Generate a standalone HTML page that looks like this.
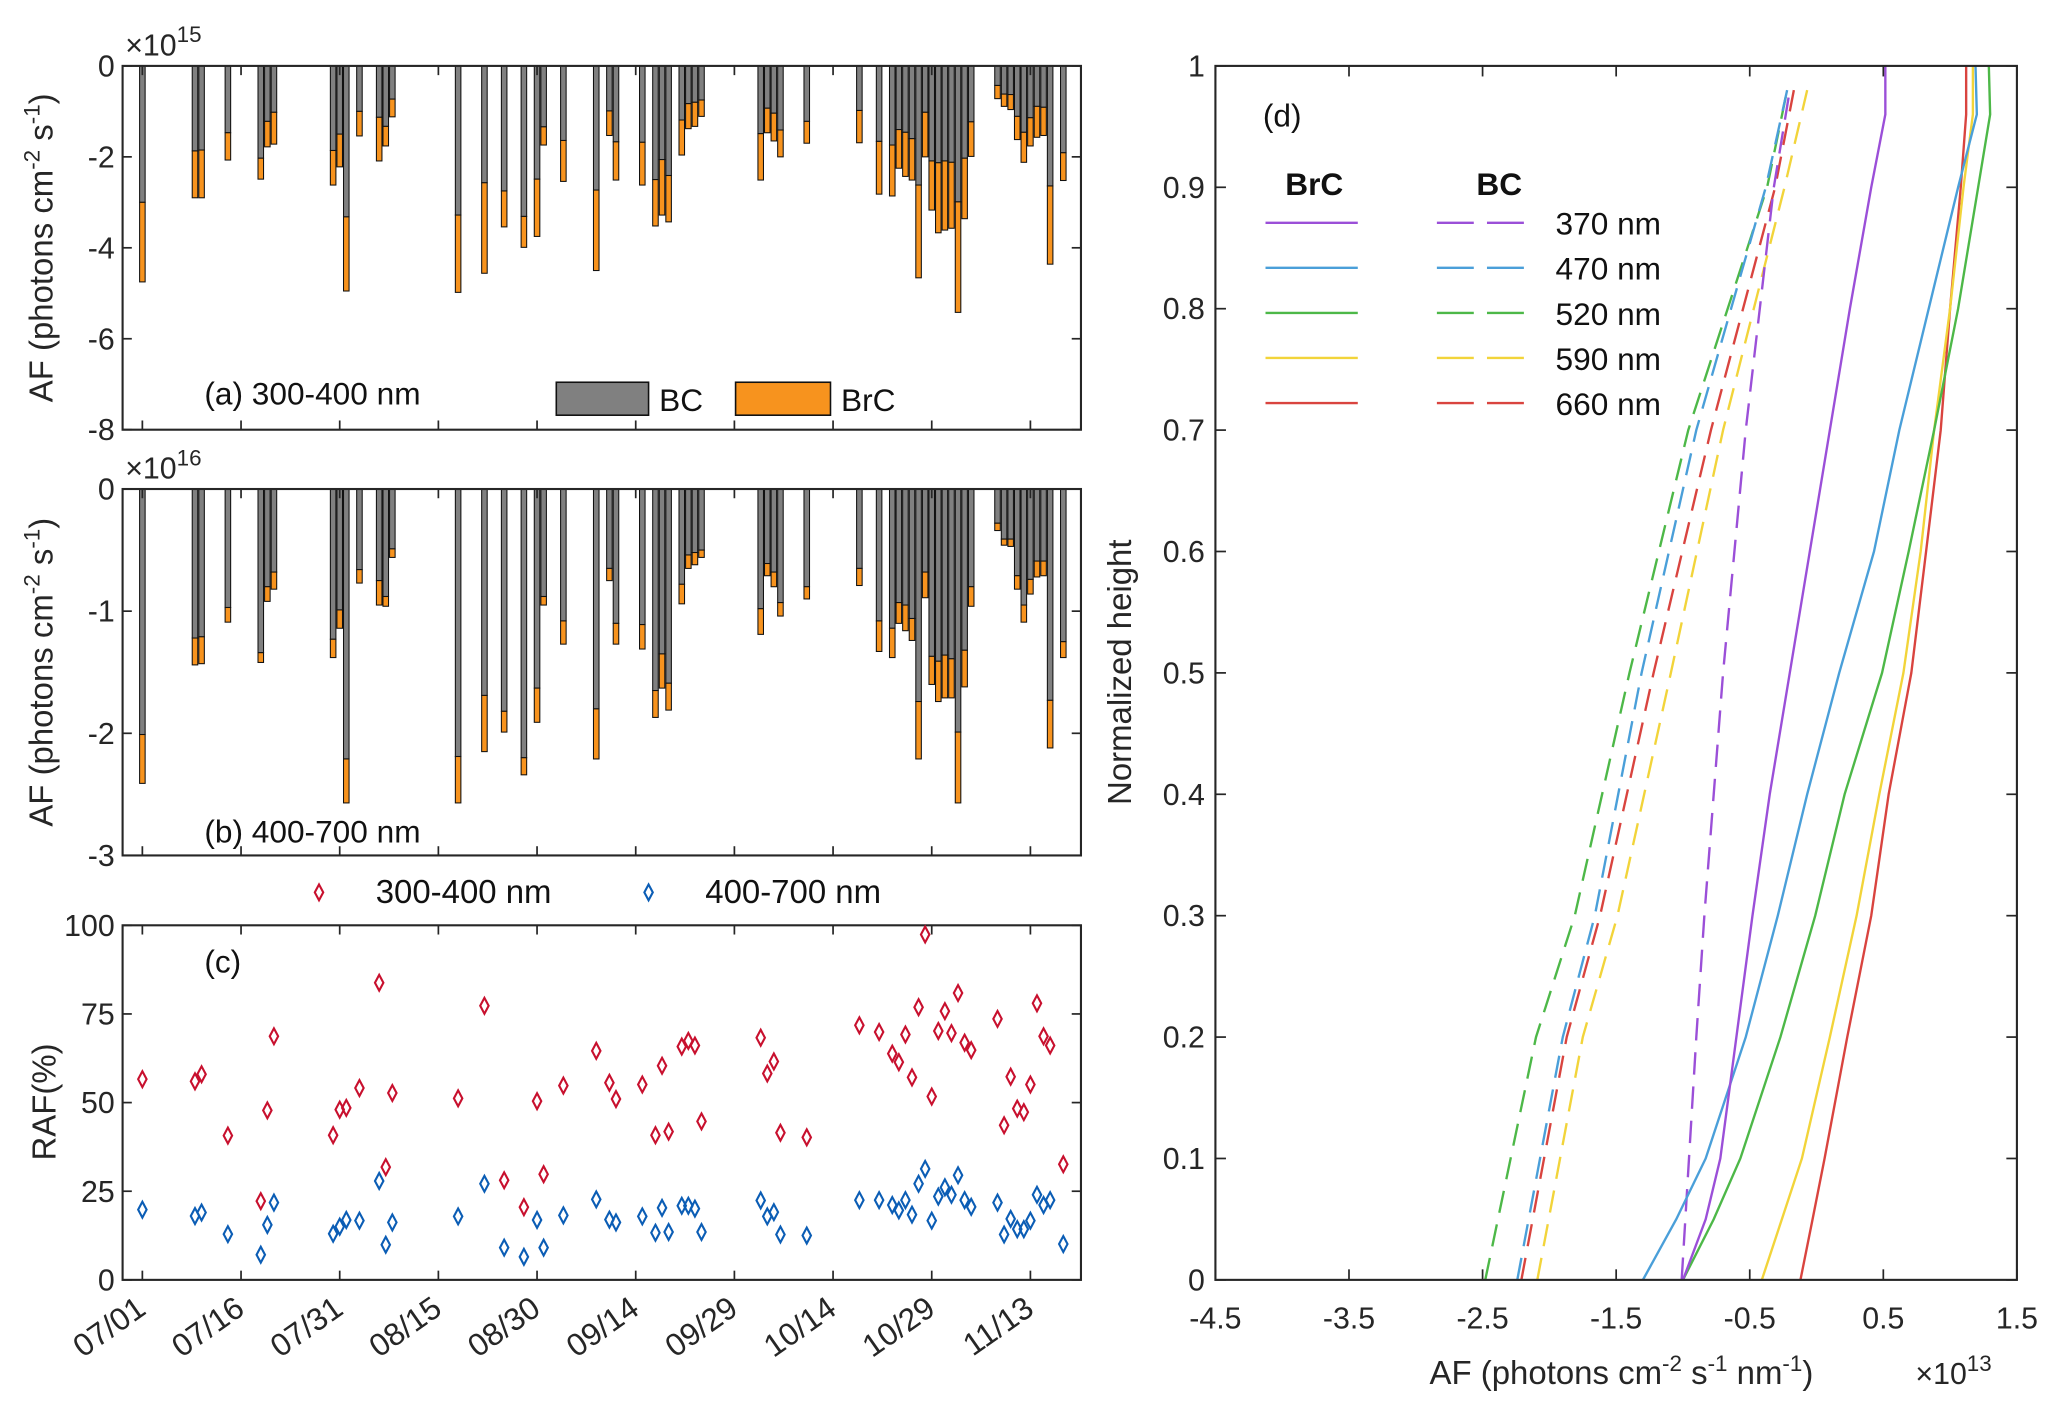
<!DOCTYPE html>
<html><head><meta charset="utf-8"><style>
html,body{margin:0;padding:0;background:#fff}
svg{display:block;font-family:"Liberation Sans",Arial,sans-serif}
</style></head><body>
<svg id="fig" xmlns="http://www.w3.org/2000/svg" width="2067" height="1413" viewBox="0 0 1568 1072" preserveAspectRatio="none">
<rect width="1568" height="1072" fill="#fff"/>
<g id="pa"></g>
<g id="pb"></g>
<g id="pc"></g>
<g id="pd"></g>
</svg>
<script>
// ---- data: panels a/b/c (day index from 07/01) ----
const days = [0,8,9,13,18,19,20,29,30,31,33,36,37,38,48,52,55,58,60,61,64,69,71,72,76,78,79,80,82,83,84,85,94,95,96,97,101,109,112,114,115,116,117,118,119,120,121,122,123,124,125,126,130,131,132,133,134,135,136,137,138,140];
const bcA = [-3.0,-1.87,-1.85,-1.47,-2.03,-1.22,-1.02,-1.86,-1.5,-3.32,-1.0,-1.13,-1.33,-0.73,-3.28,-2.57,-2.75,-3.31,-2.49,-1.34,-1.64,-2.73,-0.99,-1.67,-1.68,-2.5,-2.06,-2.41,-1.19,-0.83,-0.8,-0.75,-1.49,-0.93,-1.04,-1.41,-1.22,-0.98,-1.66,-1.74,-1.4,-1.46,-1.6,-2.62,-1.02,-2.09,-2.13,-2.09,-2.12,-2.99,-2.03,-1.23,-0.43,-0.62,-0.63,-1.11,-1.46,-1.14,-0.89,-0.91,-2.64,-1.91];
const totA = [-4.75,-2.9,-2.9,-2.07,-2.49,-1.78,-1.72,-2.62,-2.22,-4.95,-1.54,-2.09,-1.76,-1.12,-4.98,-4.56,-3.54,-3.99,-3.75,-1.74,-2.54,-4.5,-1.53,-2.51,-2.62,-3.52,-3.28,-3.43,-1.96,-1.38,-1.33,-1.11,-2.51,-1.47,-1.65,-2.0,-1.7,-1.69,-2.82,-2.86,-2.25,-2.43,-2.51,-4.66,-2.0,-3.17,-3.67,-3.61,-3.57,-5.42,-3.36,-1.99,-0.72,-0.89,-0.96,-1.62,-2.12,-1.76,-1.57,-1.53,-4.36,-2.52];
const bcB = [-2.01,-1.22,-1.21,-0.97,-1.34,-0.8,-0.68,-1.23,-0.99,-2.21,-0.66,-0.75,-0.88,-0.49,-2.19,-1.69,-1.82,-2.2,-1.63,-0.88,-1.08,-1.8,-0.65,-1.1,-1.11,-1.65,-1.35,-1.59,-0.78,-0.54,-0.52,-0.5,-0.98,-0.61,-0.68,-0.93,-0.8,-0.65,-1.08,-1.14,-0.93,-0.95,-1.06,-1.74,-0.68,-1.37,-1.41,-1.36,-1.39,-1.99,-1.32,-0.8,-0.28,-0.41,-0.41,-0.71,-0.95,-0.74,-0.59,-0.59,-1.73,-1.25];
const totB = [-2.41,-1.44,-1.43,-1.09,-1.42,-0.92,-0.82,-1.38,-1.14,-2.57,-0.77,-0.95,-0.96,-0.56,-2.57,-2.15,-1.99,-2.34,-1.91,-0.95,-1.27,-2.21,-0.75,-1.27,-1.31,-1.87,-1.63,-1.81,-0.94,-0.65,-0.62,-0.56,-1.19,-0.71,-0.8,-1.04,-0.9,-0.79,-1.33,-1.38,-1.1,-1.16,-1.24,-2.21,-0.89,-1.6,-1.74,-1.71,-1.71,-2.57,-1.62,-0.96,-0.34,-0.46,-0.47,-0.82,-1.09,-0.86,-0.72,-0.71,-2.12,-1.38];
const rafUV = [56.6,56,58,40.7,22.2,47.8,68.7,40.8,48,48.5,54.1,83.8,31.8,52.7,51.2,77.3,28.1,20.5,50.4,29.8,54.8,64.6,55.6,51,55.1,40.8,60.4,41.8,65.8,67.4,66.1,44.7,68.3,58.2,61.6,41.5,40.2,71.8,69.9,63.8,61.4,69.2,57.1,76.9,97.4,51.7,70.2,75.8,69.6,80.9,66.9,64.8,73.6,43.6,57.3,48.3,47.3,55.1,78,68.7,66.1,32.6];
const rafVis = [19.8,18,19,12.9,7.1,15.5,21.8,13,15,16.9,16.7,27.9,9.9,16.2,17.9,27.1,9.1,6.5,16.9,9.1,18.2,22.7,17,16.2,17.9,13.3,20.3,13.5,20.9,20.9,20.1,13.5,22.4,17.9,19.1,12.8,12.5,22.5,22.5,21.1,19.6,22.5,18.4,27.1,31.3,16.7,23.5,26.1,24,29.5,22.5,20.6,21.8,12.8,17.2,14.3,14.3,16.7,24,21.1,22.5,10.1];
const dateLabels = ["07/01","07/16","07/31","08/15","08/30","09/14","09/29","10/14","10/29","11/13"];
const ticksA = [0,-2,-4,-6,-8];
const ticksB = [0,-1,-2,-3];
const ticksC = [0,25,50,75,100];
// ---- data: panel d ----
const heights = [0,0.05,0.1,0.2,0.3,0.4,0.5,0.6,0.7,0.8,0.9,0.96,1.0];
const brc370 = [-1.0,-0.83,-0.72,-0.6,-0.48,-0.35,-0.2,-0.05,0.1,0.25,0.41,0.515,0.515];
const brc470 = [-1.3,-1.05,-0.83,-0.53,-0.29,-0.07,0.17,0.43,0.62,0.84,1.06,1.2,1.19];
const brc520 = [-1.0,-0.77,-0.57,-0.27,-0.01,0.21,0.49,0.69,0.88,1.06,1.21,1.3,1.29];
const brc590 = [-0.41,-0.26,-0.11,0.1,0.3,0.47,0.65,0.78,0.88,1.0,1.1,1.17,1.17];
const brc660 = [-0.12,-0.03,0.06,0.23,0.41,0.54,0.71,0.82,0.93,1.0,1.08,1.12,1.12];
const hBC = [0,0.2,0.3,0.5,0.7,0.9,0.98];
const bc370 = [-1.01,-0.9,-0.84,-0.7,-0.53,-0.32,-0.2];
const bc470 = [-2.24,-1.9,-1.66,-1.31,-0.9,-0.38,-0.22];
const bc520 = [-2.48,-2.1,-1.81,-1.4,-0.96,-0.37,-0.22];
const bc590 = [-2.09,-1.75,-1.49,-1.09,-0.7,-0.24,-0.07];
const bc660 = [-2.21,-1.87,-1.62,-1.22,-0.79,-0.31,-0.17];
const ticksDx = [-4.5,-3.5,-2.5,-1.5,-0.5,0.5,1.5];
const ticksDy = [0,0.1,0.2,0.3,0.4,0.5,0.6,0.7,0.8,0.9,1];

const NS="http://www.w3.org/2000/svg";
function mk(parent,tag,attrs,text){const e=document.createElementNS(NS,tag);for(const k in attrs)e.setAttribute(k,attrs[k]);if(text!==undefined)e.textContent=text;parent.appendChild(e);return e;}

const X0=93,X1=820;
const xDay=d=>108+d*4.99;
const BW=4.2;
function axisBox(g,y0,y1,x0,x1){
  const r=mk(g,'rect',{x:x0,y:y0,width:x1-x0,height:y1-y0,fill:'none',stroke:'#262626','stroke-width':1.6});
  
  
}
function dateTicks(g,y0,y1){
  for(let i=0;i<dateLabels.length;i++){const x=xDay(i*15);
    mk(g,'line',{x1:x,x2:x,y1:y1,y2:y1-7,stroke:'#262626','stroke-width':1.3});
    mk(g,'line',{x1:x,x2:x,y1:y0,y2:y0+7,stroke:'#262626','stroke-width':1.3});}
}
function yTicks(g,ticks,ys,x0,x1,labels){
  ticks.forEach((t,i)=>{const y=ys(t);
    mk(g,'line',{x1:x0,x2:x0+7,y1:y,y2:y,stroke:'#262626','stroke-width':1.3});
    mk(g,'line',{x1:x1,x2:x1-7,y1:y,y2:y,stroke:'#262626','stroke-width':1.3});
    const t2=mk(g,'text',{x:x0-6,y:y+8,'text-anchor':'end','font-size':23,fill:'#262626'},labels?labels[i]:String(t));
    
    
  });
}
function stacked(g,y0,scale,bc,tot,name){
  const ys=v=>y0-v*scale;
  for(let i=0;i<days.length;i++){const x=xDay(days[i])-BW/2;
    const b=mk(g,'rect',{x:x,y:y0,width:BW,height:ys(bc[i])-y0,fill:'#808080',stroke:'#111','stroke-width':0.8});
    
    
    const o=mk(g,'rect',{x:x,y:ys(bc[i]),width:BW,height:ys(tot[i])-ys(bc[i]),fill:'#F7931E',stroke:'#111','stroke-width':0.8});
    
    
  }
  return ys;
}
function ytitle(g,cx,cy,name){
  const t=mk(g,'text',{x:0,y:0,transform:`translate(${cx},${cy}) rotate(-90)`,'text-anchor':'middle','font-size':25,fill:'#262626'});
  t.innerHTML='AF (photons  cm<tspan dy="-10" font-size="17">-2</tspan><tspan dy="10">  s</tspan><tspan dy="-10" font-size="17">-1</tspan><tspan dy="10">)</tspan>';
  
  
}
function expo(g,x,y,p,name){
  const t=mk(g,'text',{x:x,y:y,'font-size':23,fill:'#262626'});
  t.innerHTML='×10<tspan dy="-10" font-size="17">'+p+'</tspan>';
  
  
}
// panel a
{const g=document.getElementById('pa');
 const ys=stacked(g,50,276/8,bcA,totA,'panel-a');
 axisBox(g,50,326,X0,X1);dateTicks(g,50,326);yTicks(g,ticksA,ys,X0,X1);
 ytitle(g,40,188,'y-axis-title-a');expo(g,95,42,'15','exponent-a');
 const l=mk(g,'text',{x:155,y:307,'font-size':24,fill:'#111'},'(a) 300-400 nm');
 
 
 const r1=mk(g,'rect',{x:422,y:290,width:70,height:25,fill:'#808080',stroke:'#111','stroke-width':1.2});
 
 
 const t1=mk(g,'text',{x:500,y:312,'font-size':24,fill:'#111'},'BC');
 
 
 const r2=mk(g,'rect',{x:558,y:290,width:72,height:25,fill:'#F7931E',stroke:'#111','stroke-width':1.2});
 
 
 const t2=mk(g,'text',{x:638,y:312,'font-size':24,fill:'#111'},'BrC');
 
 
}
// panel b
{const g=document.getElementById('pb');
 const ys=stacked(g,371,278/3,bcB,totB,'panel-b');
 axisBox(g,371,649,X0,X1);dateTicks(g,371,649);yTicks(g,ticksB,ys,X0,X1);
 ytitle(g,40,510,'y-axis-title-b');expo(g,95,363,'16','exponent-b');
 const l=mk(g,'text',{x:155,y:639,'font-size':24,fill:'#111'},'(b) 400-700 nm');
 
 
}
// panel c
{const g=document.getElementById('pc');
 const ys=v=>971-v*2.69;
 axisBox(g,702,971,X0,X1);dateTicks(g,702,971);yTicks(g,ticksC,ys,X0,X1);
 function dia(x,y,c,name){const p=mk(g,'path',{d:`M${x} ${y-6}L${x+3.2} ${y}L${x} ${y+6}L${x-3.2} ${y}Z`,fill:'none',stroke:c,'stroke-width':1.6});
   
   }
 for(let i=0;i<days.length;i++){dia(xDay(days[i]),ys(rafUV[i]),'#C8102E','raf-uv-point');dia(xDay(days[i]),ys(rafVis[i]),'#0B5DB5','raf-vis-point');}
 dia(242,677,'#C8102E','legend-uv-marker');dia(492,677,'#0B5DB5','legend-vis-marker');
 const a=mk(g,'text',{x:285,y:685,'font-size':25,fill:'#111'},'300-400 nm');
 
 
 const b=mk(g,'text',{x:535,y:685,'font-size':25,fill:'#111'},'400-700 nm');
 
 
 const c=mk(g,'text',{x:155,y:738,'font-size':24,fill:'#111'},'(c)');
 
 
 const yt=mk(g,'text',{x:0,y:0,transform:'translate(42,836) rotate(-90)','text-anchor':'middle','font-size':25,fill:'#262626'},'RAF(%)');
 
 
 dateLabels.forEach((s,i)=>{const x=xDay(i*15);
   const t=mk(g,'text',{x:0,y:0,transform:`translate(${x+4},${996}) rotate(-35)`,'text-anchor':'end','font-size':24,fill:'#262626'},s);
   
   });
}
// panel d
{const g=document.getElementById('pd');
 const DX0=922,DX1=1530,DY0=50,DY1=971;
 const xs=v=>DX0+(v+4.5)*(DX1-DX0)/6, ys=h=>DY1-h*(DY1-DY0);
 const cols={p:'#9B4FD8',b:'#4A9FD9',g:'#4DB848',y:'#F2D43A',r:'#D9443F'};
 function line(vals,hs,c,dash,name){const d=vals.map((v,i)=>(i?'L':'M')+xs(v).toFixed(1)+' '+ys(hs[i]).toFixed(1)).join('');
   const p=mk(g,'path',{d:d,fill:'none',stroke:c,'stroke-width':1.8,'stroke-dasharray':dash?'17 9':'none'});
   
   }
 line(bc520,hBC,cols.g,1,'bc-520-line');line(bc470,hBC,cols.b,1,'bc-470-line');line(bc660,hBC,cols.r,1,'bc-660-line');line(bc590,hBC,cols.y,1,'bc-590-line');line(bc370,hBC,cols.p,1,'bc-370-line');
 line(brc660,heights,cols.r,0,'brc-660-line');line(brc590,heights,cols.y,0,'brc-590-line');line(brc520,heights,cols.g,0,'brc-520-line');line(brc470,heights,cols.b,0,'brc-470-line');line(brc370,heights,cols.p,0,'brc-370-line');
 axisBox(g,DY0,DY1,DX0,DX1);
 ticksDx.forEach(t=>{const x=xs(t);
   mk(g,'line',{x1:x,x2:x,y1:DY1,y2:DY1-8,stroke:'#262626','stroke-width':1.3});
   mk(g,'line',{x1:x,x2:x,y1:DY0,y2:DY0+8,stroke:'#262626','stroke-width':1.3});
   const l=mk(g,'text',{x:x,y:1008,'text-anchor':'middle','font-size':23,fill:'#262626'},String(t));
   
   });
 ticksDy.forEach(t=>{const y=ys(t);
   mk(g,'line',{x1:DX0,x2:DX0+8,y1:y,y2:y,stroke:'#262626','stroke-width':1.3});
   mk(g,'line',{x1:DX1,x2:DX1-8,y1:y,y2:y,stroke:'#262626','stroke-width':1.3});
   const l=mk(g,'text',{x:DX0-8,y:y+8,'text-anchor':'end','font-size':23,fill:'#262626'},String(t));
   
   });
 const xt=mk(g,'text',{x:1230,y:1050,'text-anchor':'middle','font-size':25,fill:'#262626'});
 xt.innerHTML='AF (photons  cm<tspan dy="-10" font-size="17">-2</tspan><tspan dy="10">  s</tspan><tspan dy="-10" font-size="17">-1</tspan><tspan dy="10">  nm</tspan><tspan dy="-10" font-size="17">-1</tspan><tspan dy="10">)</tspan>';
 
 
 expo(g,1453,1050,'13','exponent-d');
 const yt=mk(g,'text',{x:0,y:0,transform:'translate(858,510) rotate(-90)','text-anchor':'middle','font-size':25,fill:'#262626'},'Normalized height');
 
 
 const dl=mk(g,'text',{x:958,y:96,'font-size':24,fill:'#111'},'(d)');
 
 
 const h1=mk(g,'text',{x:975,y:148,'font-size':24,'font-weight':'bold',fill:'#111'},'BrC');
 
 
 const h2=mk(g,'text',{x:1120,y:148,'font-size':24,'font-weight':'bold',fill:'#111'},'BC');
 
 
 const leg=[['370 nm',cols.p],['470 nm',cols.b],['520 nm',cols.g],['590 nm',cols.y],['660 nm',cols.r]];
 leg.forEach((e,i)=>{const y=169+i*34.2;
   const a=mk(g,'line',{x1:960,x2:1030,y1:y,y2:y,stroke:e[1],'stroke-width':1.8});
   
   
   const b=mk(g,'line',{x1:1090,x2:1166,y1:y,y2:y,stroke:e[1],'stroke-width':1.8,'stroke-dasharray':'28 10'});
   
   
   const t=mk(g,'text',{x:1180,y:y+9,'font-size':24,fill:'#111'},e[0]);
   
   });
}
</script>
</body></html>
